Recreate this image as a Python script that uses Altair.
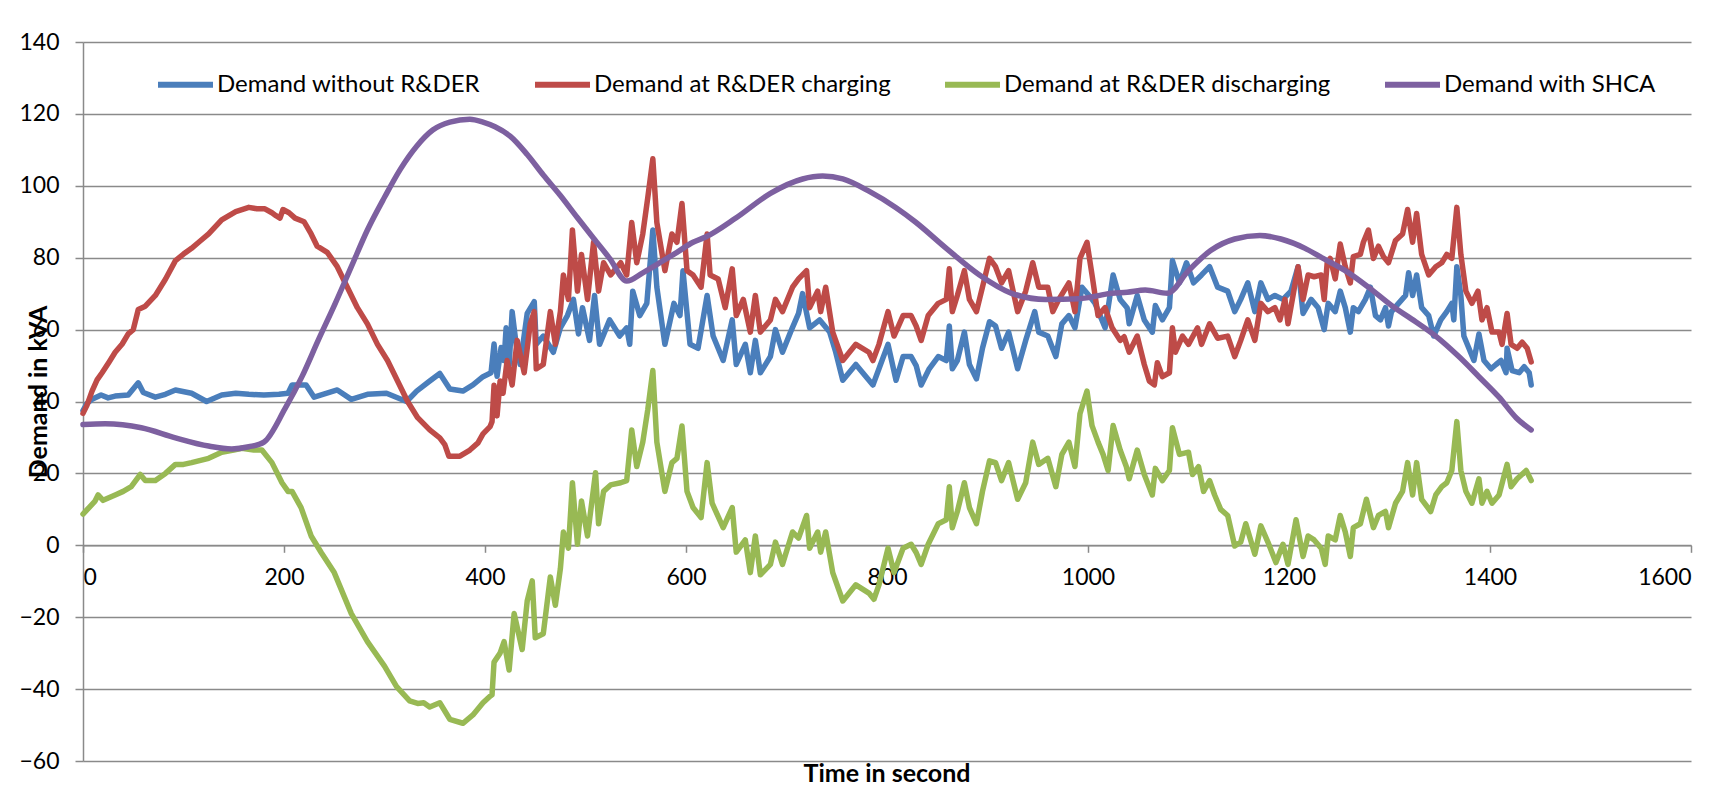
import altair as alt
import pandas as pd

SERIES = ["Demand without R&DER", "Demand at R&DER charging",
          "Demand at R&DER discharging", "Demand with SHCA"]
COLORS = ["#4A7EBB", "#BE4B48", "#98B954", "#7D60A0"]

X_TICKS = [0, 200, 400, 600, 800, 1000, 1200, 1400, 1600]
Y_TICKS = [-60, -40, -20, 0, 20, 40, 60, 80, 100, 120, 140]

blue_t = [0, 4, 9, 18, 25, 32, 45, 55, 60, 72, 82, 92, 108, 123, 138, 152, 165, 180, 195, 204,
          208, 222, 230, 253, 267, 283, 302, 322, 332, 345, 355, 365, 378, 388, 398, 406, 409, 412, 416, 419,
          421, 424, 427, 431, 435, 442, 449, 451, 458, 468, 475, 482, 488, 493, 497, 504, 509, 514, 524, 534,
          541, 544, 547, 554, 561, 567, 571, 579, 588, 594, 597, 604, 612, 621, 627, 637, 646, 650, 659, 664,
          669, 674, 684, 689, 696, 704, 712, 716, 723, 733, 743, 749, 756, 769, 786, 792, 801, 809, 816, 824,
          829, 834, 842, 851, 859, 862, 865, 870, 877, 882, 889, 895, 902, 908, 914, 921, 930, 938, 947, 951,
          960, 968, 974, 981, 987, 994, 1001, 1007, 1017, 1025, 1032, 1039, 1041, 1049, 1056, 1064, 1067, 1074, 1081, 1084,
          1091, 1098, 1105, 1113, 1121, 1129, 1139, 1146, 1152, 1159, 1166, 1172, 1179, 1186, 1194, 1202, 1209, 1214, 1222, 1229,
          1235, 1239, 1246, 1251, 1256, 1261, 1264, 1269, 1276, 1281, 1286, 1291, 1296, 1299, 1302, 1309, 1316, 1319, 1323, 1327,
          1332, 1339, 1344, 1351, 1357, 1362, 1364, 1367, 1371, 1374, 1379, 1384, 1389, 1394, 1401, 1406, 1411, 1416, 1417, 1422,
          1429, 1434, 1439, 1441]
blue_v = [37.5, 39.5, 40.6, 41.8, 41.0, 41.5, 41.8, 45.2, 42.5, 41.2, 42.0, 43.2, 42.3, 40.0, 41.8, 42.3, 42.0, 41.8, 42.0, 42.3,
          44.6, 44.6, 41.2, 43.2, 40.6, 42.0, 42.3, 40.0, 42.9, 45.7, 47.8, 43.5, 42.9, 44.6, 46.9, 48.0, 56.0, 47.0, 55.0, 51.4,
          60.5, 50.0, 65.0, 55.9, 50.3, 64.5, 67.8, 55.9, 58.2, 53.7, 60.5, 63.9, 68.4, 58.8, 66.1, 57.0, 69.5, 55.9, 62.7, 58.2,
          60.5, 55.9, 70.7, 63.9, 67.3, 87.7, 71.8, 55.9, 67.3, 63.9, 76.4, 55.9, 54.8, 69.5, 58.2, 51.4, 62.7, 50.3, 55.9, 48.0,
          57.0, 48.0, 52.5, 60.0, 53.7, 59.3, 64.5, 70.0, 60.5, 62.7, 59.3, 53.7, 45.9, 50.3, 44.6, 49.1, 55.9, 45.9, 52.5, 52.5,
          50.0, 44.6, 49.1, 52.5, 51.4, 61.0, 49.1, 51.4, 59.3, 50.3, 46.3, 54.8, 62.2, 61.0, 54.8, 59.3, 49.1, 57.0, 65.0, 59.3,
          58.2, 52.5, 61.6, 63.9, 60.5, 71.8, 69.5, 67.3, 60.5, 75.2, 68.4, 66.0, 61.6, 69.5, 62.7, 59.3, 66.7, 62.7, 66.1, 79.2,
          73.0, 78.6, 73.0, 75.2, 77.5, 71.8, 70.7, 65.0, 68.4, 73.0, 65.0, 73.0, 68.4, 69.5, 68.4, 70.7, 77.5, 64.5, 68.4, 66.1,
          60.0, 67.3, 65.0, 70.7, 66.1, 59.3, 66.1, 65.0, 68.4, 71.8, 63.9, 62.7, 66.1, 61.0, 65.0, 67.3, 69.5, 75.8, 69.5, 75.2,
          66.1, 63.9, 58.2, 62.7, 65.0, 67.3, 62.7, 77.5, 69.5, 58.2, 54.8, 51.4, 58.8, 51.4, 49.1, 50.3, 51.4, 48.0, 54.8, 48.6,
          48.0, 49.7, 48.0, 44.6]

red_t = [0, 4, 9, 14, 19, 26, 32, 39, 45, 50, 55, 62, 72, 82, 92, 100, 108, 116, 125, 138,
         152, 165, 173, 181, 188, 192, 196, 199, 205, 211, 220, 227, 233, 243, 253, 263, 273, 283, 293, 303,
         313, 323, 333, 345, 355, 360, 364, 375, 385, 393, 398, 405, 407, 409, 412, 415, 418, 422, 427, 432,
         439, 445, 449, 451, 458, 465, 470, 475, 478, 483, 487, 492, 496, 502, 508, 513, 518, 525, 535, 541,
         546, 551, 557, 562, 567, 571, 579, 586, 591, 596, 601, 607, 615, 621, 624, 632, 639, 646, 650, 657,
         664, 669, 674, 684, 689, 696, 706, 712, 720, 723, 731, 734, 739, 746, 756, 769, 782, 786, 792, 801,
         807, 816, 824, 829, 834, 841, 851, 859, 862, 865, 870, 877, 882, 889, 895, 902, 908, 914, 921, 930,
         938, 945, 951, 960, 965, 971, 981, 987, 992, 999, 1004, 1010, 1017, 1024, 1032, 1036, 1041, 1049, 1056, 1061,
         1066, 1069, 1074, 1081, 1084, 1087, 1094, 1100, 1109, 1113, 1121, 1129, 1139, 1146, 1152, 1159, 1166, 1172, 1179, 1186,
         1191, 1196, 1199, 1204, 1209, 1214, 1219, 1225, 1232, 1235, 1238, 1241, 1246, 1251, 1256, 1261, 1264, 1271, 1274, 1279,
         1284, 1289, 1294, 1299, 1306, 1313, 1318, 1323, 1327, 1332, 1339, 1346, 1352, 1357, 1362, 1367, 1371, 1376, 1382, 1388,
         1392, 1397, 1402, 1409, 1412, 1417, 1421, 1427, 1432, 1437, 1441]
red_v = [36.7, 39.0, 42.9, 46.0, 48.0, 51.0, 53.7, 56.0, 58.8, 60.0, 65.6, 66.5, 69.5, 74.0, 79.2, 81.0, 82.6, 84.5, 86.6, 90.5,
         92.8, 94.0, 93.6, 93.6, 92.5, 91.7, 91.0, 93.4, 92.5, 91.0, 90.0, 86.6, 83.2, 81.5, 77.5, 71.8, 66.1, 61.6, 55.9, 51.4,
         45.7, 40.0, 35.5, 32.1, 29.9, 28.0, 24.8, 24.8, 26.5, 28.5, 31.0, 33.0, 34.4, 44.5, 36.0, 45.7, 42.3, 51.4, 44.6, 57.0,
         48.0, 61.6, 65.0, 49.1, 50.3, 65.0, 55.9, 65.0, 75.2, 68.4, 87.7, 70.7, 80.9, 68.4, 84.3, 70.7, 78.6, 75.2, 78.6, 75.2,
         89.8, 78.6, 86.6, 96.8, 107.5, 89.8, 76.4, 86.6, 84.3, 95.1, 76.4, 75.2, 71.8, 86.6, 75.2, 74.1, 66.1, 76.9, 63.9, 68.4,
         59.3, 69.5, 59.3, 62.7, 68.4, 65.0, 71.8, 74.1, 76.4, 66.1, 70.7, 65.0, 71.8, 59.3, 51.4, 55.9, 53.7, 51.4, 55.9, 65.0,
         58.2, 63.9, 63.9, 61.0, 57.0, 63.9, 67.3, 68.4, 76.9, 65.0, 69.5, 76.4, 68.4, 65.0, 71.8, 79.8, 77.5, 73.0, 76.4, 65.0,
         70.7, 78.6, 71.8, 71.8, 65.0, 68.4, 73.0, 65.0, 79.8, 84.3, 75.2, 63.9, 66.1, 60.5, 57.0, 58.0, 53.7, 58.2, 50.3, 45.7,
         44.6, 50.8, 46.9, 48.0, 60.5, 53.7, 58.2, 55.9, 60.5, 55.9, 61.6, 57.6, 58.2, 52.5, 57.0, 62.7, 57.0, 67.3, 65.0, 66.1,
         62.7, 68.4, 61.6, 69.5, 77.5, 68.4, 75.2, 74.7, 75.2, 68.4, 78.6, 79.8, 74.1, 83.8, 77.5, 73.0, 80.3, 80.9, 84.3, 87.7,
         79.8, 83.2, 80.3, 78.6, 84.8, 86.6, 93.4, 84.3, 92.3, 80.9, 75.2, 77.5, 78.6, 80.9, 79.8, 94.0, 80.9, 70.7, 67.3, 70.7,
         62.7, 66.1, 59.3, 59.3, 55.9, 64.5, 55.9, 54.8, 56.5, 54.8, 51.0]

green_t = [0, 6, 12, 15, 20, 32, 40, 48, 57, 62, 72, 82, 92, 100, 108, 125, 138, 150, 158, 170,
           178, 188, 198, 204, 208, 217, 227, 237, 250, 267, 283, 300, 312, 325, 333, 339, 345, 355, 365, 378,
           388, 398, 405, 407, 409, 415, 419, 424, 429, 437, 442, 447, 450, 458, 465, 470, 475, 478, 483, 487,
           492, 496, 502, 510, 513, 518, 525, 535, 541, 546, 551, 557, 562, 567, 571, 579, 586, 591, 596, 601,
           607, 615, 621, 626, 637, 646, 650, 659, 664, 669, 674, 684, 689, 696, 706, 712, 720, 723, 731, 734,
           739, 746, 756, 769, 782, 787, 792, 801, 807, 816, 824, 829, 834, 841, 851, 859, 862, 865, 870, 877,
           882, 889, 895, 902, 908, 914, 921, 930, 938, 945, 951, 960, 968, 974, 981, 987, 992, 999, 1004, 1010,
           1015, 1020, 1025, 1032, 1038, 1041, 1049, 1056, 1064, 1067, 1074, 1081, 1084, 1091, 1100, 1104, 1110, 1115, 1121, 1126,
           1132, 1139, 1146, 1152, 1157, 1166, 1172, 1179, 1187, 1194, 1199, 1207, 1214, 1219, 1225, 1232, 1236, 1239, 1246, 1251,
           1256, 1261, 1264, 1271, 1277, 1284, 1289, 1296, 1299, 1306, 1313, 1318, 1323, 1327, 1332, 1341, 1346, 1352, 1357, 1362,
           1367, 1371, 1376, 1382, 1389, 1392, 1397, 1402, 1409, 1417, 1421, 1427, 1436, 1441]
green_v = [8.7, 10.5, 12.3, 14.0, 12.5, 14.0, 15.0, 16.3, 19.7, 18.0, 18.0, 20.0, 22.5, 22.5, 23.0, 24.2, 25.9, 26.5, 27.0, 26.5,
           26.5, 23.0, 17.4, 15.0, 15.0, 10.5, 2.6, -2.0, -7.6, -19.0, -26.8, -33.6, -39.3, -43.3, -44.0, -43.8, -45.0, -43.8, -48.4, -49.5,
           -47.2, -43.8, -42.0, -41.6, -32.5, -30.0, -26.8, -34.7, -19.0, -29.0, -15.5, -9.9, -25.7, -24.6, -8.8, -16.7, -6.5, 3.7, -0.8, 17.4,
           0.3, 12.3, 2.6, 20.2, 6.0, 15.0, 16.8, 17.4, 18.0, 32.1, 21.9, 28.7, 37.8, 48.6, 28.7, 15.0, 23.0, 24.2, 33.2, 15.0,
           10.5, 7.7, 23.0, 11.7, 4.9, 10.5, -1.9, 1.5, -7.6, 2.6, -8.2, -5.3, 0.9, -5.3, 3.7, 2.0, 8.3, -0.8, 3.7, -1.9,
           3.7, -7.6, -15.5, -11.0, -13.3, -15.0, -11.0, -0.8, -7.6, -0.8, 0.3, -2.0, -5.3, 0.3, 6.0, 7.1, 16.3, 4.9, 9.4, 17.4,
           10.5, 6.0, 15.0, 23.5, 23.0, 18.0, 23.0, 12.8, 17.4, 28.7, 22.5, 24.2, 16.3, 25.3, 28.7, 21.9, 36.6, 42.9, 33.3, 28.7,
           25.3, 20.8, 33.3, 26.5, 22.0, 18.5, 26.5, 19.7, 14.0, 21.4, 18.0, 20.8, 32.7, 25.3, 25.9, 19.7, 21.9, 15.0, 18.0, 14.0,
           10.0, 8.3, -0.2, 0.9, 6.0, -2.5, 5.4, 0.9, -4.8, 0.3, -5.3, 7.1, -3.1, 2.6, 1.5, -0.8, -5.3, 2.6, 1.5, 8.3,
           3.7, -3.1, 4.9, 6.0, 12.8, 4.9, 8.3, 9.4, 4.9, 11.7, 15.0, 23.0, 14.0, 23.0, 12.8, 9.4, 14.0, 16.3, 17.4, 20.8,
           34.4, 20.8, 15.0, 11.7, 18.5, 11.7, 15.0, 11.7, 14.0, 22.5, 16.3, 18.5, 20.8, 18.0]

purple_t = [0, 22, 58, 92, 125, 148, 165, 180, 201, 218, 234, 251, 267, 283, 300, 316, 332, 348, 365, 385,
            398, 410, 425, 442, 458, 475, 492, 508, 524, 541, 557, 574, 591, 607, 620, 650, 684, 716, 736, 756,
            782, 809, 828, 859, 892, 924, 958, 991, 1024, 1039, 1057, 1079, 1100, 1122, 1146, 1171, 1192, 1216, 1234, 1256,
            1279, 1302, 1326, 1346, 1369, 1389, 1409, 1426, 1441]
purple_v = [33.6, 33.8, 32.7, 29.9, 27.6, 26.8, 27.4, 28.7, 38.0, 47.0, 57.0, 67.3, 77.5, 87.7, 96.8, 104.7, 111.0, 115.5, 117.7, 118.5,
            117.7, 116.4, 113.8, 108.7, 103.0, 97.3, 91.1, 85.4, 79.8, 73.5, 75.8, 78.6, 81.5, 84.3, 85.8, 91.1, 97.9, 101.9, 102.7, 101.9,
            98.5, 93.9, 90.0, 82.6, 75.2, 70.1, 68.4, 68.6, 70.1, 70.4, 71.0, 70.1, 76.4, 82.0, 85.2, 86.2, 85.2, 82.6, 79.8, 76.4,
            71.8, 66.7, 62.2, 58.2, 52.5, 46.9, 41.2, 35.5, 32.1]

rows = []
for name, ts, vs in [(SERIES[0], blue_t, blue_v), (SERIES[1], red_t, red_v),
                     (SERIES[2], green_t, green_v), (SERIES[3], purple_t, purple_v)]:
    for i, (t, v) in enumerate(zip(ts, vs)):
        rows.append({"series": name, "t": t, "v": v, "i": i})
df = pd.DataFrame(rows)

FONT = "Lato"
GRID = "#8a8a8a"
W, H = 1608, 719
LW = 5.5

color = alt.Color(
    "series:N",
    scale=alt.Scale(domain=SERIES, range=COLORS),
    sort=SERIES,
    legend=alt.Legend(
        title=None, orient="none", direction="horizontal",
        legendX=72, legendY=12,
        symbolType="stroke", symbolSize=3025, symbolStrokeWidth=6,
        labelFont=FONT, labelFontSize=24, labelColor="black", labelOffset=1,
        columnPadding=42, labelLimit=500,
    ),
)

x = alt.X("t:Q", scale=alt.Scale(domain=[0, 1600], nice=False, zero=False),
          axis=alt.Axis(values=X_TICKS, format="d", orient="bottom", offset=-H * 60 / 200, grid=False,
                        domainColor=GRID, domainWidth=1.5, tickColor=GRID, tickWidth=1.5, tickSize=7,
                        labelFont=FONT, labelFontSize=23, labelColor="black", labelPadding=14,
                        title=None))
y = alt.Y("v:Q", scale=alt.Scale(domain=[-60, 140], nice=False, zero=False),
          axis=alt.Axis(values=Y_TICKS, format="d", grid=True, gridColor=GRID, gridWidth=1.5,
                        domainColor=GRID, domainWidth=1.5, tickColor=GRID, tickWidth=1.5, tickSize=8,
                        labelFont=FONT, labelFontSize=23, labelColor="black", labelPadding=16,
                        title="Demand in kVA", titleFont=FONT, titleFontSize=25, titleFontWeight="bold",
                        titleColor="black", titleAngle=-90, titleX=-45, titleY=H / 2 - 10,
                        titleAlign="center", titleBaseline="middle"))

base = alt.Chart(df)
noisy = base.transform_filter(alt.datum.series != SERIES[3]).mark_line(
    strokeWidth=LW, strokeJoin="round", strokeCap="round"
).encode(x=x, y=y, color=color, order="i:Q")
smooth = base.transform_filter(alt.datum.series == SERIES[3]).mark_line(
    strokeWidth=LW, interpolate="monotone", strokeCap="round"
).encode(x=x, y=y, color=color, order="i:Q")

chart = alt.layer(noisy, smooth).properties(
    width=W, height=H,
    title=alt.TitleParams("Time in second", orient="bottom", anchor="middle", font=FONT,
                          fontSize=25, fontWeight="bold", color="black", baseline="top", offset=-11),
    autosize=alt.AutoSizeParams(type="none"),
    padding={"left": 75, "top": 34, "right": 20, "bottom": 26},
    background="white",
).configure_view(stroke=None)

chart.save("out.html", embed_options={"renderer": "svg", "actions": False})
